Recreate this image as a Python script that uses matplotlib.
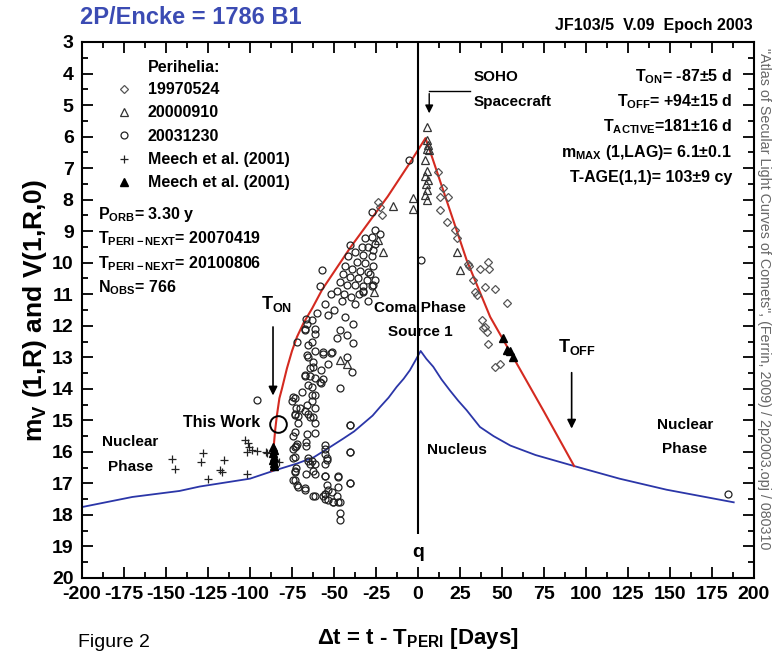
import matplotlib
matplotlib.use("Agg")
import matplotlib.pyplot as plt
from matplotlib.ticker import MultipleLocator

plt.rcParams['font.family'] = ['Liberation Sans', 'DejaVu Sans']
plt.rcParams['font.weight'] = 'bold'
plt.rcParams['axes.labelweight'] = 'bold'
plt.rcParams['axes.unicode_minus'] = False
plt.rcParams['mathtext.fontset'] = 'custom'
plt.rcParams['mathtext.rm'] = 'Liberation Sans:bold'
plt.rcParams['mathtext.it'] = 'Liberation Sans:bold'
plt.rcParams['mathtext.bf'] = 'Liberation Sans:bold'
plt.rcParams['mathtext.default'] = 'rm'

# perihelion 19970524 (diamonds)
dia_x = [-23.6, -22.6, -21.6, 12.1, 15.1, 13.1, 18.0, 13.1, 17.1, 22.0, 23.0, 29.9, 30.2, 36.9,
         41.9, 42.0, 32.9, 39.9, 33.9, 45.8, 34.9, 52.8, 37.9, 39.9, 38.7, 41.3, 41.9, 45.8, 48.8]
dia_y = [8.07, 8.22, 8.5, 7.12, 7.64, 7.91, 7.91, 8.33, 8.7, 8.97, 9.23, 10.03, 10.1, 10.19,
         9.97, 10.2, 10.56, 10.77, 10.93, 10.82, 11.03, 11.29, 11.83, 12.04, 12.08, 12.2, 12.57, 13.3, 13.2]

# perihelion 20000910 (open triangles)
tri_x = [5.2, 5.4, 6.0, 5.2, 6.5, 4.4, 5.2, 4.2, 6.2, 4.8, 5.4, 4.2, 5.2, -3.2, -3.2, -15.1,
         -23.6, -20.6, 23.0, 25.0, -46.4, -42.4, -26.2]
tri_y = [5.69, 6.1, 6.27, 6.38, 6.44, 6.75, 7.1, 7.25, 7.38, 7.52, 7.7, 7.85, 8.0, 7.96, 8.3, 8.2,
         9.29, 9.66, 9.66, 10.24, 13.1, 13.2, 10.93]

# perihelion 20031230 (open circles)
cir_x = [-74.4, -72.4, -73.2, -71.6, -74.4, -72.4, -73.2, -74.4, -72.4, -73.2, -74.4, -71.4, -67.3,
         -61.3, -66.9, -61.3, -61.3, -65.5, -67.3, -64.3, -63.3, -61.3, -63.1, -64.3, -67.3, -62.3,
         -65.5, -61.3, -63.1, -67.3, -61.3, -66.9, -60.1, -57.5, -57.5, -61.3, -61.3, -66.9,
         -56.5, -51.5, -42.4, -46.4, -56.5, -40.5, -40.5, -40.5, -47.6, -47.6, -47.6, -46.4, -46.4,
         -55.4, -55.4, -53.4, -50.4, -55.4, -55.4, -54.4, -55.4,
         -55.4, -53.6, -50.0, -45.4, -43.5, -38.5, -37.5, -32.5, -46.4, -48.4, -42.4, -38.5, -56.4,
         -51.4, -53.4, -66.3, -63.3, -61.3, -67.3, -72.2, -65.3, -66.3, -62.3, -64.3, -67.3, -61.3,
         -65.3, -58.3, -69.3, -63.3, -73.2, -75.2, -66.3, -61.3, -70.3, -65.3, -71.3, -62.3,
         -27.6, -25.6, -22.6, -27.6, -31.5, -25.6, -29.6, -33.5, -26.6, -40.5, -37.5, -32.5, -27.6,
         -41.4, -36.5, -31.5, -26.6, -43.4, -39.5, -34.5, -29.6, -44.4, -40.5, -35.5, -30.6, -25.6,
         -46.4, -42.4, -37.5, -32.5, -27.6, -57.3, -58.3,
         -48.0, -44.0, -40.0, -35.0, -30.0, -28.6, -26.6, -32.5, -52.0,
         -73.2, -66.3, -66.5, -73.2, -72.2, -74.2, -73.2, -64.3, -63.3, -62.3, -65.3, -73.2, -73.2,
         -72.2, -67.3, -62.3, -55.4, -55.4, -54.4, -55.4, -54.4, -55.4, -53.4, -56.4, -51.4, -48.4,
         -46.4, -47.4, -40.5, -40.5, -40.5, -50.4,
         -96.0, 1.6, -5.2, 184.7, -39.1]
cir_y = [14.27, 14.6, 14.8, 15.1, 15.5, 15.8, 15.85, 16.2, 16.5, 16.6, 16.9, 17.1, 17.2,
         17.4, 16.7, 16.4, 16.7, 16.3, 14.7, 14.9, 14.4, 14.2, 13.95, 13.6, 13.6, 13.3,
         13.0, 12.8, 12.5, 12.1, 12.1, 11.8, 11.6, 13.4, 13.8, 15.4, 15.1, 15.8,
         12.9, 12.85, 13.0, 13.98, 13.7, 15.16, 16.0, 17.0, 16.75, 17.1, 17.6, 17.95, 18.15,
         17.5, 17.35, 17.2, 17.6, 16.75, 16.4, 16.2, 15.9,
         11.3, 11.67, 11.5, 11.2, 11.72, 11.93, 11.3, 10.93, 12.14, 12.4, 12.3, 12.55, 12.83,
         12.83, 13.2, 11.93, 11.83, 12.25, 12.14, 12.51, 12.62, 12.93, 13.14, 13.35, 13.56, 13.67,
         13.88, 13.77, 14.1, 14.2, 14.3, 14.4, 14.5, 14.6, 14.6, 14.8, 14.87, 14.9,
         8.39, 8.97, 9.1, 9.2, 9.23, 9.4, 9.5, 9.5, 9.6, 9.44, 9.65, 9.76, 9.8,
         9.8, 9.98, 10.0, 10.1, 10.1, 10.2, 10.25, 10.3, 10.35, 10.45, 10.5, 10.55, 10.55,
         10.6, 10.7, 10.7, 10.75, 10.75, 10.24, 10.75,
         10.9, 11.0, 11.1, 11.0, 11.2, 10.35, 10.7, 10.9, 11.0,
         14.84, 15.42, 15.7, 15.37, 15.74, 15.9, 16.17, 16.37, 16.3, 16.6, 16.2, 16.65, 16.9,
         17.05, 17.16, 17.4, 15.79, 16.06, 16.27, 16.75, 17.06, 17.33, 17.54, 17.4, 17.27, 17.4,
         17.6, 16.8, 17.0, 16.0, 15.16, 17.6,
         14.37, 9.9, 6.75, 17.33, 13.47]

# Meech et al. (2001) crosses
plus_x = [-146.6, -144.6, -127.8, -129.4, -115.3, -117.9, -116.9, -124.8, -102.0, -103.0,
          -101.4, -100.4, -102.0, -99.0, -95.6, -90.5, -90.0, -82.5]
plus_y = [16.22, 16.53, 16.03, 16.32, 16.27, 16.59, 16.65, 16.85, 16.69, 15.61,
          15.71, 15.83, 16.0, 15.95, 15.97, 16.0, 16.05, 16.32]

# Meech et al. (2001) filled triangles
ftri_x = [-86.5, -86.0, -86.3, -85.8, -86.2, -85.7, -86.0, 50.8, 52.8, 54.8, 56.7]
ftri_y = [15.85, 15.95, 16.05, 16.15, 16.25, 16.35, 16.45, 12.4, 12.78, 12.8, 13.0]

this_work_x = [-83.1]
this_work_y = [15.13]

# secular light curve fit (red) and nucleus (blue)
red_x = [-87.0, -86.0, -85.0, -84.0, -82.5, -81.0, -78.0, -75.0, -72.0, -68.0, -63.0, -57.0,
         -40.0, -18.0, -5.0, 4.5, 7.0, 15.0, 29.0, 43.0, 56.7, 75.0, 93.0]
red_y = [16.6, 15.9, 15.3, 14.85, 14.3, 14.0, 13.35, 12.8, 12.35, 11.9, 11.45, 10.85,
         9.5, 7.9, 6.85, 6.05, 6.43, 7.7, 9.92, 11.72, 13.0, 14.72, 16.45]

blue_x = [-200.0, -170.0, -142.0, -130.0, -100.0, -86.0, -72.0, -62.0, -52.4, -44.5, -38.0,
          -32.5, -27.0, -22.6, -17.5, -12.7, -8.5, -4.8, -1.5, 1.6,
          5.0, 9.1, 14.0, 19.0, 24.0, 29.0, 36.9, 45.0, 55.0, 70.0, 93.0, 120.0, 148.0, 188.0]
blue_y = [17.75, 17.43, 17.24, 17.1, 16.85, 16.6, 16.37, 16.17, 15.85, 15.58, 15.35,
          15.1, 14.85, 14.58, 14.28, 13.94, 13.68, 13.41, 13.1, 12.8,
          13.05, 13.3, 13.7, 14.05, 14.38, 14.68, 15.21, 15.5, 15.8, 16.1, 16.45, 16.85, 17.2, 17.6]

legend_labels = ['19970524', '20000910', '20031230', 'Meech et al. (2001)', 'Meech et al. (2001)']
left_stats = ['P$_{ORB}$= 3.30 y', 'T$_{PERI-NEXT}$= 20070419', 'T$_{PERI-NEXT}$= 20100806',
              'N$_{OBS}$= 766']
right_stats = ['T$_{ON}$= -87±5 d', 'T$_{OFF}$= +94±15 d', 'T$_{ACTIVE}$=181±16 d',
               'm$_{MAX}$ (1,LAG)= 6.1±0.1', 'T-AGE(1,1)= 103±9 cy']

fig = plt.figure(figsize=(7.74, 6.58), dpi=100)
ax = fig.add_axes([0.106, 0.1216, 0.868, 0.8146])

ax.plot(blue_x, blue_y, color='#2b36a8', lw=1.3, zorder=2)
ax.plot(red_x, red_y, color='#d42a20', lw=1.5, zorder=2)
ax.vlines(0, 3, 18.6, color='black', lw=1.5, zorder=3)

h_dia, = ax.plot(dia_x, dia_y, 'D', ms=4, mfc='none', mec='#555555', mew=0.9, ls='none')
h_tri, = ax.plot(tri_x, tri_y, '^', ms=5.5, mfc='none', mec='#333333', mew=0.9, ls='none')
h_cir, = ax.plot(cir_x, cir_y, 'o', ms=5, mfc='none', mec='#222222', mew=0.9, ls='none')
h_plus, = ax.plot(plus_x, plus_y, '+', ms=6, mec='#222222', mew=0.9, ls='none')
h_ftri, = ax.plot(ftri_x, ftri_y, '^', ms=5.5, mfc='black', mec='black', ls='none', zorder=4)
ax.plot(this_work_x, this_work_y, 'o', ms=12, mfc='none', mec='black', mew=1.4, ls='none', zorder=5)

ax.set_xlim(-200, 200)
ax.set_ylim(20, 3)
ax.xaxis.set_major_locator(MultipleLocator(25))
ax.xaxis.set_minor_locator(MultipleLocator(12.5))
ax.yaxis.set_major_locator(MultipleLocator(1))
ax.yaxis.set_minor_locator(MultipleLocator(0.5))
ax.tick_params(which='both', direction='in', top=True, right=True, width=1.3)
ax.tick_params(which='major', length=8, labelsize=14, pad=6)
ax.tick_params(which='minor', length=4)
for sp in ax.spines.values():
    sp.set_linewidth(1.5)

ax.set_ylabel('m$_V$ (1,R) and V(1,R,0)', fontsize=19, fontweight='bold', labelpad=2)
ax.set_xlabel('Δt = t - T$_{PERI}$ [Days]', fontsize=16, fontweight='bold', labelpad=16)

# legend
ax.text(0.098, 0.953, 'Perihelia:', transform=ax.transAxes, fontsize=11.5, va='center')
ax.legend([h_dia, h_tri, h_cir, h_plus, h_ftri], legend_labels, loc='upper left',
          bbox_to_anchor=(0.055, 0.925), frameon=False, fontsize=11.5, handlelength=0.6,
          handletextpad=1.2, borderpad=0, borderaxespad=0, labelspacing=0.52)

for i, s in enumerate(left_stats):
    ax.text(-190.5, 8.46 + i * 0.78, s, fontsize=11.5, va='center', ha='left')
for i, s in enumerate(right_stats):
    ax.text(186.9, 4.1 + i * 0.8, s, fontsize=11.5, va='center', ha='right')

# annotations
ax.text(33.3, 4.1, 'SOHO', fontsize=11, va='center')
ax.text(33.3, 4.9, 'Spacecraft', fontsize=11, va='center')
ax.plot([31, 6.7], [4.55, 4.55], color='black', lw=1)
ax.annotate('', xy=(6.7, 5.35), xytext=(6.7, 4.55),
            arrowprops=dict(arrowstyle='-|>', color='black', lw=1, mutation_scale=12))

ax.text(-84, 11.3, 'T$_{ON}$', fontsize=13, ha='center', va='center')
ax.annotate('', xy=(-86.3, 14.3), xytext=(-86.3, 11.95),
            arrowprops=dict(arrowstyle='-|>', color='black', lw=1.2, mutation_scale=13))
ax.text(94.5, 12.67, 'T$_{OFF}$', fontsize=13, ha='center', va='center')
ax.annotate('', xy=(91.5, 15.35), xytext=(91.5, 13.4),
            arrowprops=dict(arrowstyle='-|>', color='black', lw=1.2, mutation_scale=13))

ax.text(-94, 15.08, 'This Work', fontsize=11.5, ha='right', va='center')
ax.text(-171.4, 15.69, 'Nuclear', fontsize=11, ha='center', va='center')
ax.text(-171.4, 16.49, 'Phase', fontsize=11, ha='center', va='center')
ax.text(159, 15.16, 'Nuclear', fontsize=11, ha='center', va='center')
ax.text(159, 15.9, 'Phase', fontsize=11, ha='center', va='center')
ax.text(1.2, 11.45, 'Coma Phase', fontsize=11, ha='center', va='center')
ax.text(1.2, 12.2, 'Source 1', fontsize=11, ha='center', va='center')
ax.text(23, 15.95, 'Nucleus', fontsize=11, ha='center', va='center')
ax.text(0, 19.18, 'q', fontsize=14, ha='center', va='center')

fig.text(0.104, 0.974, '2P/Encke = 1786 B1', fontsize=17, color='#3b4bb3', ha='left', va='center')
fig.text(0.972, 0.962, 'JF103/5  V.09  Epoch 2003', fontsize=11.5, ha='right', va='center')
fig.text(0.987, 0.927, '"Atlas of Secular Light Curves of Comets", (Ferrin, 2009) / 2p2003.opj / 080310',
         fontsize=10.3, fontweight='normal', color='#666666', rotation=-90, ha='center', va='top')
fig.text(0.101, 0.024, 'Figure 2', fontsize=14, fontweight='normal', ha='left', va='center')

fig.savefig('out.png', dpi=100)
